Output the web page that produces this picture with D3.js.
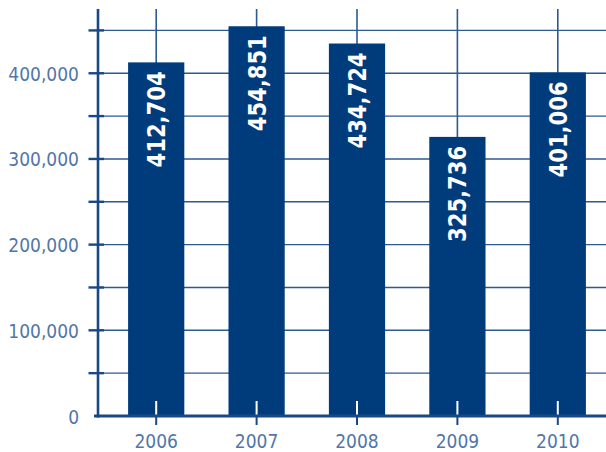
<!DOCTYPE html>
<html>
<head>
<meta charset="utf-8">
<script src="https://cdn.jsdelivr.net/npm/d3@7"></script>
<style>
  html, body { margin: 0; padding: 0; background: #fff; }
  svg { display: block; }
</style>
</head>
<body>
<svg id="chart" width="606" height="452"></svg>
<script>
// Annual totals
const years = ["2006", "2007", "2008", "2009", "2010"];
const totals = [412704, 454851, 434724, 325736, 401006];
const yTickValues = [0, 50000, 100000, 150000, 200000, 250000, 300000, 350000, 400000, 450000];
const yLabelValues = [0, 100000, 200000, 300000, 400000];

const W = 606, H = 452;
const barColor = "#003c7c";
const axisColor = "#1a4886";
const gridColor = "#2d5a93";
const labelColor = "#5276a8";
const font = "'DejaVu Sans Condensed', 'DejaVu Sans', sans-serif";

const svg = d3.select("#chart");

const x = d3.scaleBand()
  .domain(years)
  .range([106, 608])
  .paddingInner(0.44)
  .paddingOuter(0.22);

const y = d3.scaleLinear()
  .domain([0, 475000])
  .range([416, 9]);

const axisX = 98;

// Horizontal gridlines every 50,000
svg.append("g")
  .selectAll("line")
  .data(yTickValues.filter(d => d > 0))
  .join("line")
  .attr("x1", axisX).attr("x2", W)
  .attr("y1", d => y(d)).attr("y2", d => y(d))
  .attr("stroke", gridColor)
  .attr("stroke-width", 1.4);

// Vertical gridlines through each category centre
svg.append("g")
  .selectAll("line")
  .data(years)
  .join("line")
  .attr("x1", d => x(d) + x.bandwidth() / 2)
  .attr("x2", d => x(d) + x.bandwidth() / 2)
  .attr("y1", y.range()[1]).attr("y2", y(0))
  .attr("stroke", gridColor)
  .attr("stroke-width", 1.6);

// Bars
svg.append("g")
  .selectAll("rect")
  .data(years.map((k, i) => ({ year: k, value: totals[i] })))
  .join("rect")
  .attr("x", d => x(d.year))
  .attr("width", x.bandwidth())
  .attr("y", d => y(d.value))
  .attr("height", d => y(0) - y(d.value))
  .attr("fill", barColor);

// Value labels inside bars, rotated, reading upward
svg.append("g")
  .selectAll("text")
  .data(years.map((k, i) => ({ year: k, value: totals[i] })))
  .join("text")
  .attr("transform", d => `translate(${x(d.year) + x.bandwidth() / 2 + 9},${y(d.value) + 9}) rotate(-90)`)
  .attr("text-anchor", "end")
  .attr("fill", "#fff")
  .attr("font-family", font)
  .attr("font-weight", "bold")
  .attr("font-size", 25)
  .attr("textLength", 96)
  .attr("lengthAdjust", "spacingAndGlyphs")
  .text(d => d3.format(",")(d.value));

// X tick marks: white inside the bar, dark below the baseline
const xt = svg.append("g");
xt.selectAll("line.in")
  .data(years)
  .join("line")
  .attr("class", "in")
  .attr("x1", d => x(d) + x.bandwidth() / 2)
  .attr("x2", d => x(d) + x.bandwidth() / 2)
  .attr("y1", 401).attr("y2", y(0))
  .attr("stroke", "#fff")
  .attr("stroke-width", 2);
xt.selectAll("line.out")
  .data(years)
  .join("line")
  .attr("class", "out")
  .attr("x1", d => x(d) + x.bandwidth() / 2)
  .attr("x2", d => x(d) + x.bandwidth() / 2)
  .attr("y1", y(0)).attr("y2", 425)
  .attr("stroke", axisColor)
  .attr("stroke-width", 2);

// X axis baseline
svg.append("line")
  .attr("x1", 94).attr("x2", W)
  .attr("y1", y(0)).attr("y2", y(0))
  .attr("stroke", axisColor)
  .attr("stroke-width", 3);

// Y axis line and ticks
svg.append("line")
  .attr("x1", axisX).attr("x2", axisX)
  .attr("y1", y.range()[1]).attr("y2", y(0) + 1.5)
  .attr("stroke", axisColor)
  .attr("stroke-width", 2.6);

svg.append("g")
  .selectAll("line")
  .data(yTickValues.filter(d => d > 0))
  .join("line")
  .attr("x1", 88.5).attr("x2", 104)
  .attr("y1", d => y(d)).attr("y2", d => y(d))
  .attr("stroke", axisColor)
  .attr("stroke-width", 2.4);

// Y labels
svg.append("g")
  .selectAll("text")
  .data(yLabelValues)
  .join("text")
  .attr("x", 79)
  .attr("y", d => y(d) + 7.5)
  .attr("text-anchor", "end")
  .attr("fill", labelColor)
  .attr("font-family", font)
  .attr("font-size", 19)
  .text(d => d3.format(",")(d));

// X labels
svg.append("g")
  .selectAll("text")
  .data(years)
  .join("text")
  .attr("x", d => x(d) + x.bandwidth() / 2)
  .attr("y", 447.5)
  .attr("text-anchor", "middle")
  .attr("fill", labelColor)
  .attr("font-family", font)
  .attr("font-size", 19)
  .text(d => d);
</script>
</body>
</html>
